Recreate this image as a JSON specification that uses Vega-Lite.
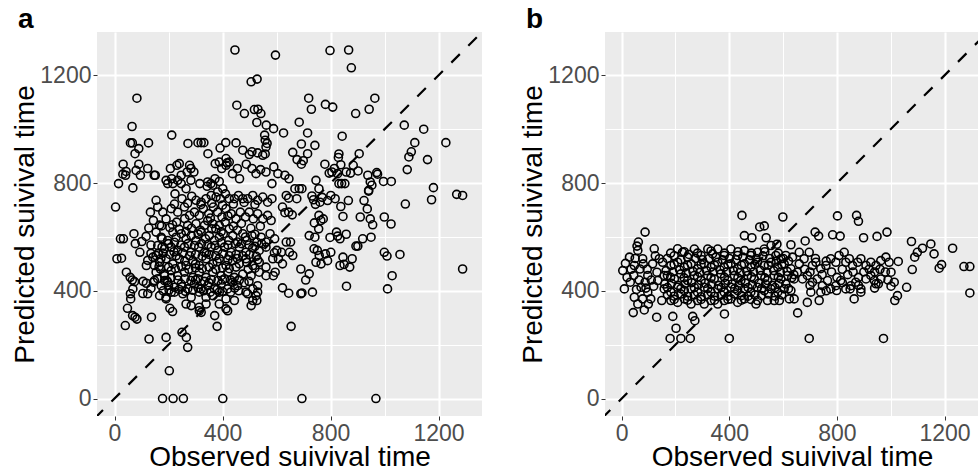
{
"$schema": "https://vega.github.io/schema/vega-lite/v6.json",
"padding": {"left": 11, "top": 6, "right": 0, "bottom": 0},
"spacing": 37,
"datasets": {
"diag": [{"v": -200}, {"v": 1600}],
"a": [
{"o":446,"p":1294},{"o":596,"p":1275},{"o":798,"p":1292},{"o":867,"p":1294},{"o":877,"p":1228},{"o":506,"p":1176},{"o":528,"p":1186},{"o":83,"p":1115},{"o":964,"p":1115},{"o":719,"p":1115},{"o":781,"p":1092},{"o":808,"p":1082},{"o":729,"p":1074},{"o":453,"p":1089},{"o":481,"p":1058},{"o":518,"p":1073},{"o":531,"p":1074},{"o":542,"p":1058},{"o":527,"p":1025},{"o":893,"p":1058},{"o":943,"p":1074},{"o":1073,"p":1015},{"o":1145,"p":1000},{"o":684,"p":1026},{"o":65,"p":1010},{"o":562,"p":1015},{"o":589,"p":1002},{"o":626,"p":986},{"o":715,"p":986},{"o":556,"p":978},{"o":558,"p":959},{"o":843,"p":974},{"o":212,"p":978},{"o":126,"p":949},{"o":59,"p":949},{"o":66,"p":949},{"o":76,"p":909},{"o":90,"p":928},{"o":272,"p":947},{"o":309,"p":950},{"o":321,"p":950},{"o":331,"p":950},{"o":412,"p":950},{"o":450,"p":949},{"o":692,"p":945},{"o":742,"p":940},{"o":1112,"p":950},{"o":1227,"p":950},{"o":1099,"p":916},{"o":1090,"p":897},{"o":1084,"p":850},{"o":1159,"p":887},{"o":906,"p":909},{"o":831,"p":908},{"o":346,"p":909},{"o":499,"p":906},{"o":530,"p":912},{"o":558,"p":908},{"o":391,"p":930},{"o":660,"p":914},{"o":676,"p":887},{"o":699,"p":883},{"o":692,"p":870},{"o":715,"p":909},
{"o":32,"p":870},{"o":31,"p":833},{"o":41,"p":829},{"o":43,"p":843},{"o":15,"p":798},{"o":68,"p":782},{"o":90,"p":870},{"o":123,"p":854},{"o":147,"p":829},{"o":151,"p":829},{"o":80,"p":847},{"o":96,"p":829},{"o":240,"p":872},{"o":207,"p":854},{"o":212,"p":816},{"o":231,"p":866},{"o":269,"p":841},{"o":278,"p":866},{"o":283,"p":854},{"o":294,"p":841},{"o":316,"p":798},{"o":343,"p":788},{"o":357,"p":798},{"o":372,"p":816},{"o":388,"p":806},{"o":417,"p":875},{"o":397,"p":854},{"o":437,"p":835},{"o":455,"p":854},{"o":463,"p":816},{"o":488,"p":870},{"o":509,"p":854},{"o":524,"p":835},{"o":541,"p":850},{"o":561,"p":841},{"o":590,"p":860},{"o":605,"p":835},{"o":583,"p":798},{"o":631,"p":829},{"o":646,"p":816},{"o":668,"p":779},{"o":684,"p":779},{"o":694,"p":779},{"o":746,"p":810},{"o":779,"p":870},{"o":795,"p":837},{"o":805,"p":841},{"o":831,"p":798},{"o":841,"p":798},{"o":853,"p":798},{"o":874,"p":837},{"o":938,"p":829},{"o":974,"p":833},{"o":996,"p":806},{"o":1025,"p":806},{"o":947,"p":804},{"o":941,"p":773},{"o":953,"p":792},{"o":838,"p":868},{"o":858,"p":841},{"o":814,"p":854},{"o":826,"p":835},{"o":884,"p":866},{"o":902,"p":845},{"o":971,"p":839},{"o":829,"p":895},{"o":1181,"p":783},{"o":1174,"p":738},{"o":1267,"p":758},{"o":1289,"p":754},{"o":1077,"p":722},{"o":999,"p":674},{"o":1024,"p":648},{"o":1057,"p":535},{"o":999,"p":543},{"o":1009,"p":529},{"o":1028,"p":456},{"o":1011,"p":407},{"o":1289,"p":481},
{"o":636,"p":754},{"o":645,"p":744},{"o":645,"p":692},{"o":658,"p":682},{"o":622,"p":711},{"o":631,"p":690},{"o":675,"p":742},{"o":737,"p":738},{"o":757,"p":779},{"o":731,"p":752},{"o":744,"p":721},{"o":757,"p":680},{"o":773,"p":667},{"o":761,"p":729},{"o":769,"p":747},{"o":789,"p":735},{"o":801,"p":754},{"o":817,"p":742},{"o":838,"p":713},{"o":846,"p":676},{"o":866,"p":735},{"o":924,"p":735},{"o":936,"p":704},{"o":947,"p":667},{"o":956,"p":645},{"o":950,"p":599},{"o":910,"p":674},{"o":941,"p":770},{"o":919,"p":593},{"o":901,"p":566},{"o":894,"p":566},{"o":880,"p":519},{"o":871,"p":488},{"o":850,"p":498},{"o":858,"p":610},{"o":835,"p":593},{"o":822,"p":618},{"o":826,"p":603},{"o":798,"p":598},{"o":764,"p":661},{"o":740,"p":652},{"o":756,"p":630},{"o":742,"p":599},{"o":721,"p":605},{"o":739,"p":556},{"o":751,"p":550},{"o":758,"p":531},{"o":746,"p":506},{"o":765,"p":500},{"o":781,"p":537},{"o":789,"p":512},{"o":801,"p":543},{"o":846,"p":525},{"o":835,"p":494},{"o":660,"p":531},{"o":648,"p":543},{"o":636,"p":581},{"o":652,"p":581},{"o":618,"p":543},{"o":586,"p":519},{"o":592,"p":541},{"o":601,"p":550},{"o":607,"p":519},{"o":622,"p":500},{"o":595,"p":469},{"o":588,"p":456},{"o":622,"p":411},{"o":645,"p":391},{"o":690,"p":389},{"o":694,"p":392},{"o":708,"p":440},{"o":721,"p":463},{"o":690,"p":481},{"o":733,"p":395},{"o":654,"p":268},{"o":859,"p":417},
{"o":4,"p":711},{"o":22,"p":593},{"o":33,"p":593},{"o":9,"p":519},{"o":26,"p":521},{"o":44,"p":469},{"o":58,"p":450},{"o":66,"p":440},{"o":74,"p":434},{"o":68,"p":407},{"o":59,"p":389},{"o":60,"p":370},{"o":48,"p":335},{"o":40,"p":271},{"o":67,"p":308},{"o":76,"p":302},{"o":83,"p":295},{"o":72,"p":612},{"o":77,"p":575},{"o":94,"p":543},{"o":101,"p":583},{"o":117,"p":602},{"o":127,"p":633},{"o":133,"p":692},{"o":144,"p":661},{"o":154,"p":736},{"o":167,"p":644},{"o":174,"p":641},{"o":135,"p":570},{"o":135,"p":539},{"o":118,"p":494},{"o":123,"p":513},{"o":106,"p":435},{"o":118,"p":428},{"o":105,"p":390},{"o":123,"p":389},{"o":135,"p":409},{"o":144,"p":432},{"o":137,"p":302},{"o":128,"p":221},{"o":148,"p":494},{"o":154,"p":531},{"o":162,"p":539},{"o":167,"p":506},{"o":176,"p":562},{"o":176,"p":593},{"o":170,"p":481},{"o":185,"p":456},{"o":194,"p":438},{"o":202,"p":403},{"o":191,"p":370},{"o":205,"p":335},{"o":215,"p":323},{"o":191,"p":227},{"o":203,"p":103},
{"o":178,"p":0},{"o":217,"p":0},{"o":255,"p":0},{"o":401,"p":0},{"o":694,"p":0},{"o":968,"p":0},{"o":266,"p":227},{"o":271,"p":190},{"o":250,"p":246},{"o":380,"p":268},{"o":371,"p":308},{"o":314,"p":339},
{"o":216,"p":798},{"o":247,"p":798},{"o":265,"p":779},{"o":224,"p":760},{"o":250,"p":742},{"o":286,"p":751},{"o":302,"p":736},{"o":321,"p":729},{"o":339,"p":742},{"o":358,"p":754},{"o":376,"p":748},{"o":392,"p":742},{"o":411,"p":760},{"o":425,"p":742},{"o":444,"p":742},{"o":459,"p":754},{"o":475,"p":742},{"o":493,"p":742},{"o":512,"p":754},{"o":530,"p":736},{"o":549,"p":748},{"o":567,"p":729},{"o":583,"p":742},
{"o":210,"p":705},{"o":234,"p":692},{"o":259,"p":711},{"o":278,"p":680},{"o":296,"p":692},{"o":314,"p":680},{"o":329,"p":705},{"o":349,"p":686},{"o":366,"p":711},{"o":382,"p":692},{"o":398,"p":674},{"o":413,"p":705},{"o":432,"p":686},{"o":450,"p":667},{"o":466,"p":692},{"o":485,"p":674},{"o":499,"p":692},{"o":514,"p":667},{"o":530,"p":686},{"o":549,"p":667},{"o":567,"p":680},{"o":580,"p":661},{"o":160,"p":711},{"o":179,"p":692},{"o":191,"p":667},{"o":271,"p":643},{"o":302,"p":649},{"o":333,"p":643},{"o":364,"p":649},{"o":388,"p":643},{"o":425,"p":630},
{"o":154,"p":618},{"o":173,"p":599},{"o":197,"p":587},{"o":216,"p":618},{"o":228,"p":599},{"o":247,"p":612},{"o":265,"p":593},{"o":284,"p":605},{"o":302,"p":587},{"o":321,"p":618},{"o":337,"p":593},{"o":351,"p":605},{"o":370,"p":587},{"o":388,"p":599},{"o":403,"p":612},{"o":423,"p":587},{"o":438,"p":605},{"o":456,"p":581},{"o":475,"p":612},{"o":490,"p":587},{"o":509,"p":605},{"o":527,"p":581},{"o":543,"p":599},{"o":561,"p":581},{"o":576,"p":612},{"o":593,"p":593},{"o":160,"p":568},{"o":185,"p":556},{"o":210,"p":562},{"o":234,"p":550},{"o":259,"p":562},{"o":284,"p":543},{"o":312,"p":562},{"o":333,"p":543},{"o":358,"p":562},{"o":382,"p":550},{"o":407,"p":562},{"o":432,"p":543},{"o":462,"p":562},{"o":487,"p":543},{"o":512,"p":559},{"o":536,"p":550},{"o":561,"p":562},
{"o":142,"p":525},{"o":191,"p":519},{"o":216,"p":500},{"o":240,"p":519},{"o":265,"p":494},{"o":290,"p":512},{"o":314,"p":494},{"o":339,"p":519},{"o":364,"p":500},{"o":388,"p":519},{"o":413,"p":494},{"o":438,"p":512},{"o":462,"p":500},{"o":487,"p":519},{"o":512,"p":494},{"o":536,"p":506},{"o":561,"p":488},{"o":154,"p":469},{"o":185,"p":462},{"o":210,"p":475},{"o":234,"p":456},{"o":259,"p":469},{"o":290,"p":450},{"o":314,"p":469},{"o":339,"p":450},{"o":364,"p":469},{"o":395,"p":456},{"o":419,"p":469},{"o":444,"p":450},{"o":475,"p":462},{"o":506,"p":456},{"o":536,"p":469},{"o":561,"p":456},
{"o":148,"p":438},{"o":173,"p":419},{"o":197,"p":432},{"o":222,"p":413},{"o":247,"p":425},{"o":271,"p":407},{"o":296,"p":425},{"o":321,"p":407},{"o":345,"p":419},{"o":370,"p":407},{"o":395,"p":425},{"o":419,"p":407},{"o":438,"p":432},{"o":456,"p":419},{"o":487,"p":395},{"o":512,"p":407},{"o":530,"p":419},{"o":167,"p":382},{"o":191,"p":376},{"o":222,"p":395},{"o":253,"p":389},{"o":284,"p":376},{"o":314,"p":395},{"o":339,"p":376},{"o":364,"p":382},{"o":388,"p":395},{"o":413,"p":370},{"o":444,"p":364},{"o":493,"p":389},{"o":524,"p":382},{"o":527,"p":364},
{"o":265,"p":351},{"o":284,"p":345},{"o":314,"p":326},{"o":321,"p":320},{"o":339,"p":351},{"o":388,"p":351},{"o":413,"p":333},{"o":419,"p":326},{"o":506,"p":345},{"o":512,"p":364},{"o":530,"p":395},
{"o":191,"p":810},{"o":197,"p":798},{"o":234,"p":810},{"o":247,"p":829},{"o":283,"p":810},{"o":345,"p":804},{"o":364,"p":792},{"o":382,"p":767},{"o":401,"p":779},{"o":413,"p":866},{"o":425,"p":878},{"o":413,"p":891},{"o":388,"p":878},{"o":373,"p":872},{"o":475,"p":922},{"o":509,"p":916},{"o":549,"p":903},{"o":561,"p":934},{"o":565,"p":947},
{"o":222,"p":722},{"o":271,"p":725},{"o":320,"p":720},{"o":360,"p":725},{"o":400,"p":718},{"o":440,"p":722},{"o":480,"p":728},{"o":520,"p":720},
{"o":205,"p":635},{"o":240,"p":628},{"o":285,"p":632},{"o":318,"p":625},{"o":345,"p":660},{"o":375,"p":630},{"o":410,"p":655},{"o":440,"p":640},{"o":470,"p":650},{"o":505,"p":632},{"o":540,"p":640},{"o":230,"p":655},{"o":260,"p":668},{"o":355,"p":670},{"o":420,"p":678},
{"o":200,"p":575},{"o":222,"p":580},{"o":246,"p":570},{"o":272,"p":575},{"o":296,"p":568},{"o":322,"p":575},{"o":346,"p":572},{"o":372,"p":568},{"o":396,"p":578},{"o":420,"p":570},{"o":447,"p":575},{"o":470,"p":575},{"o":498,"p":570},{"o":520,"p":565},{"o":545,"p":575},
{"o":172,"p":520},{"o":205,"p":535},{"o":228,"p":530},{"o":252,"p":540},{"o":278,"p":530},{"o":300,"p":535},{"o":325,"p":528},{"o":350,"p":535},{"o":375,"p":530},{"o":400,"p":538},{"o":425,"p":530},{"o":450,"p":535},{"o":475,"p":530},{"o":500,"p":535},{"o":525,"p":528},
{"o":165,"p":490},{"o":200,"p":488},{"o":225,"p":482},{"o":248,"p":490},{"o":275,"p":480},{"o":300,"p":485},{"o":325,"p":482},{"o":350,"p":488},{"o":375,"p":480},{"o":400,"p":485},{"o":425,"p":482},{"o":450,"p":488},{"o":495,"p":480},{"o":520,"p":484},
{"o":160,"p":445},{"o":185,"p":438},{"o":210,"p":448},{"o":235,"p":440},{"o":260,"p":445},{"o":283,"p":438},{"o":308,"p":445},{"o":333,"p":435},{"o":358,"p":442},{"o":383,"p":438},{"o":408,"p":445},{"o":430,"p":440},{"o":462,"p":440},{"o":498,"p":435},
{"o":180,"p":400},{"o":210,"p":395},{"o":240,"p":405},{"o":262,"p":398},{"o":290,"p":402},{"o":310,"p":410},{"o":330,"p":400},{"o":355,"p":395},{"o":380,"p":405},{"o":400,"p":398},{"o":430,"p":395},{"o":460,"p":400},
{"o":215,"p":645},{"o":265,"p":620},{"o":310,"p":610},{"o":360,"p":630},{"o":395,"p":620},{"o":455,"p":625},{"o":485,"p":600},{"o":520,"p":610},
{"o":180,"p":540},{"o":220,"p":545},{"o":260,"p":510},{"o":300,"p":500},{"o":340,"p":540},{"o":380,"p":508},{"o":420,"p":515},{"o":455,"p":520},{"o":490,"p":505},{"o":530,"p":515},
{"o":200,"p":420},{"o":250,"p":415},{"o":300,"p":440},{"o":350,"p":430},{"o":400,"p":440},{"o":445,"p":410},{"o":480,"p":430}
],
"b": [
{"o":447,"p":680},{"o":599,"p":674},{"o":802,"p":678},{"o":873,"p":680},{"o":880,"p":658},{"o":87,"p":618},{"o":62,"p":581},{"o":57,"p":566},{"o":456,"p":605},{"o":484,"p":597},{"o":513,"p":637},{"o":530,"p":641},{"o":537,"p":597},{"o":577,"p":573},{"o":629,"p":571},{"o":682,"p":585},{"o":719,"p":618},{"o":732,"p":603},{"o":784,"p":608},{"o":812,"p":603},{"o":899,"p":597},{"o":949,"p":602},{"o":986,"p":618},{"o":1077,"p":583},{"o":1149,"p":574},{"o":1230,"p":558},{"o":1118,"p":558},{"o":1099,"p":543},{"o":1089,"p":525},{"o":1161,"p":537},{"o":1189,"p":497},{"o":1180,"p":484},{"o":1080,"p":479},{"o":1272,"p":490},{"o":1294,"p":490},{"o":1294,"p":392},{"o":1028,"p":509},{"o":1059,"p":413},{"o":1025,"p":382},{"o":1015,"p":364},{"o":973,"p":223},{"o":697,"p":223},{"o":400,"p":223},{"o":255,"p":223},{"o":220,"p":223},{"o":180,"p":223},{"o":202,"p":261},{"o":190,"p":305},{"o":264,"p":305},{"o":272,"p":289},{"o":130,"p":302},{"o":654,"p":318},{"o":43,"p":319},{"o":84,"p":329},{"o":382,"p":314},
{"o":4,"p":475},{"o":10,"p":407},{"o":14,"p":502},{"o":29,"p":525},{"o":32,"p":432},{"o":47,"p":494},{"o":45,"p":457},{"o":60,"p":550},{"o":68,"p":481},{"o":78,"p":519},{"o":87,"p":432},{"o":97,"p":395},{"o":108,"p":370},{"o":121,"p":556},{"o":140,"p":519},{"o":152,"p":506},{"o":158,"p":457},{"o":131,"p":469},{"o":78,"p":370},{"o":60,"p":351},{"o":47,"p":376},{"o":99,"p":351},{"o":149,"p":364},{"o":119,"p":417},{"o":97,"p":457},{"o":72,"p":413},{"o":134,"p":438},
{"o":20,"p":450},{"o":35,"p":480},{"o":50,"p":520},{"o":65,"p":440},{"o":80,"p":500},{"o":95,"p":480},{"o":110,"p":440},{"o":115,"p":500},{"o":125,"p":530},{"o":90,"p":410},{"o":55,"p":405},
{"o":208,"p":556},{"o":226,"p":543},{"o":245,"p":525},{"o":270,"p":555},{"o":295,"p":531},{"o":320,"p":555},{"o":338,"p":537},{"o":357,"p":555},{"o":381,"p":531},{"o":406,"p":555},{"o":431,"p":531},{"o":456,"p":549},{"o":480,"p":531},{"o":505,"p":543},{"o":530,"p":555},{"o":555,"p":568},{"o":573,"p":531},{"o":592,"p":519},{"o":610,"p":531},
{"o":183,"p":494},{"o":208,"p":506},{"o":233,"p":488},{"o":258,"p":500},{"o":282,"p":482},{"o":307,"p":500},{"o":332,"p":488},{"o":357,"p":506},{"o":381,"p":488},{"o":406,"p":500},{"o":431,"p":482},{"o":456,"p":500},{"o":480,"p":488},{"o":505,"p":506},{"o":530,"p":494},{"o":555,"p":506},{"o":580,"p":488},{"o":604,"p":500},{"o":629,"p":482},
{"o":170,"p":457},{"o":196,"p":444},{"o":220,"p":463},{"o":245,"p":438},{"o":270,"p":457},{"o":295,"p":438},{"o":320,"p":457},{"o":344,"p":444},{"o":369,"p":463},{"o":394,"p":438},{"o":419,"p":457},{"o":443,"p":438},{"o":468,"p":457},{"o":493,"p":444},{"o":518,"p":457},{"o":542,"p":438},{"o":567,"p":457},{"o":592,"p":444},{"o":617,"p":457},{"o":641,"p":444},
{"o":158,"p":407},{"o":183,"p":395},{"o":208,"p":413},{"o":233,"p":401},{"o":258,"p":407},{"o":282,"p":395},{"o":307,"p":413},{"o":332,"p":395},{"o":357,"p":407},{"o":381,"p":395},{"o":406,"p":413},{"o":431,"p":401},{"o":456,"p":407},{"o":480,"p":395},{"o":505,"p":413},{"o":530,"p":401},{"o":555,"p":407},{"o":580,"p":395},{"o":604,"p":407},{"o":629,"p":401},
{"o":183,"p":364},{"o":208,"p":357},{"o":233,"p":370},{"o":258,"p":351},{"o":282,"p":364},{"o":307,"p":351},{"o":332,"p":364},{"o":357,"p":351},{"o":381,"p":364},{"o":406,"p":370},{"o":431,"p":357},{"o":456,"p":370},{"o":499,"p":351},{"o":505,"p":364},{"o":542,"p":364},{"o":567,"p":364},{"o":586,"p":364},{"o":623,"p":370},
{"o":170,"p":520},{"o":195,"p":530},{"o":220,"p":515},{"o":250,"p":535},{"o":275,"p":520},{"o":300,"p":515},{"o":325,"p":520},{"o":350,"p":525},{"o":375,"p":515},{"o":400,"p":520},{"o":425,"p":515},{"o":450,"p":525},{"o":475,"p":515},{"o":500,"p":520},{"o":525,"p":530},{"o":550,"p":520},{"o":575,"p":510},{"o":600,"p":520},{"o":620,"p":510},
{"o":165,"p":475},{"o":190,"p":470},{"o":215,"p":478},{"o":240,"p":465},{"o":265,"p":472},{"o":290,"p":468},{"o":315,"p":475},{"o":340,"p":470},{"o":365,"p":478},{"o":390,"p":470},{"o":415,"p":475},{"o":440,"p":468},{"o":465,"p":472},{"o":490,"p":470},{"o":515,"p":476},{"o":540,"p":470},{"o":565,"p":475},{"o":590,"p":468},{"o":615,"p":472},{"o":640,"p":460},
{"o":160,"p":425},{"o":185,"p":428},{"o":210,"p":420},{"o":235,"p":425},{"o":260,"p":430},{"o":285,"p":422},{"o":310,"p":428},{"o":335,"p":425},{"o":360,"p":420},{"o":385,"p":428},{"o":410,"p":425},{"o":435,"p":420},{"o":460,"p":428},{"o":485,"p":422},{"o":510,"p":428},{"o":535,"p":425},{"o":560,"p":420},{"o":585,"p":428},{"o":610,"p":425},
{"o":170,"p":385},{"o":195,"p":380},{"o":220,"p":388},{"o":245,"p":380},{"o":270,"p":385},{"o":295,"p":378},{"o":320,"p":385},{"o":345,"p":380},{"o":370,"p":385},{"o":395,"p":380},{"o":420,"p":388},{"o":445,"p":382},{"o":470,"p":380},{"o":495,"p":385},{"o":520,"p":382},{"o":545,"p":388},{"o":570,"p":380},{"o":595,"p":385},
{"o":182,"p":540},{"o":232,"p":545},{"o":282,"p":540},{"o":332,"p":548},{"o":382,"p":540},{"o":432,"p":545},{"o":482,"p":540},{"o":532,"p":545},{"o":582,"p":540},
{"o":195,"p":498},{"o":245,"p":495},{"o":295,"p":498},{"o":345,"p":495},{"o":395,"p":498},{"o":445,"p":495},{"o":495,"p":498},{"o":545,"p":495},{"o":595,"p":498},
{"o":182,"p":450},{"o":232,"p":448},{"o":282,"p":452},{"o":332,"p":448},{"o":382,"p":450},{"o":432,"p":448},{"o":482,"p":452},{"o":532,"p":448},{"o":582,"p":450},{"o":632,"p":448},
{"o":170,"p":412},{"o":220,"p":408},{"o":270,"p":412},{"o":320,"p":408},{"o":370,"p":412},{"o":420,"p":408},{"o":470,"p":412},{"o":520,"p":408},{"o":570,"p":412},{"o":620,"p":408},
{"o":195,"p":368},{"o":245,"p":365},{"o":295,"p":368},{"o":345,"p":365},{"o":395,"p":368},{"o":445,"p":365},{"o":480,"p":368},
{"o":635,"p":525},{"o":660,"p":543},{"o":678,"p":519},{"o":697,"p":543},{"o":709,"p":494},{"o":722,"p":506},{"o":740,"p":482},{"o":759,"p":494},{"o":777,"p":519},{"o":796,"p":506},{"o":808,"p":531},{"o":827,"p":543},{"o":833,"p":506},{"o":846,"p":519},{"o":858,"p":494},{"o":877,"p":506},{"o":889,"p":519},{"o":908,"p":494},{"o":926,"p":506},{"o":945,"p":494},{"o":963,"p":512},{"o":982,"p":525},{"o":994,"p":506},
{"o":653,"p":469},{"o":672,"p":444},{"o":690,"p":457},{"o":709,"p":432},{"o":727,"p":444},{"o":746,"p":419},{"o":765,"p":438},{"o":777,"p":407},{"o":796,"p":419},{"o":814,"p":438},{"o":833,"p":407},{"o":852,"p":419},{"o":870,"p":432},{"o":889,"p":407},{"o":908,"p":444},{"o":926,"p":457},{"o":945,"p":426},{"o":963,"p":444},{"o":1001,"p":469},{"o":1013,"p":432},{"o":1001,"p":417},{"o":641,"p":370},{"o":703,"p":395},{"o":740,"p":395},{"o":799,"p":401},{"o":849,"p":407},{"o":864,"p":370},{"o":889,"p":395},{"o":939,"p":438},{"o":954,"p":426},{"o":734,"p":364},{"o":690,"p":357},
{"o":660,"p":500},{"o":680,"p":480},{"o":700,"p":470},{"o":720,"p":520},{"o":745,"p":460},{"o":760,"p":510},{"o":780,"p":470},{"o":800,"p":450},{"o":820,"p":480},{"o":840,"p":460},{"o":860,"p":470},{"o":880,"p":450},{"o":900,"p":470},{"o":920,"p":480},{"o":940,"p":470},{"o":960,"p":480},{"o":980,"p":470},{"o":700,"p":420},{"o":760,"p":400},{"o":820,"p":430},{"o":880,"p":420},{"o":940,"p":410},{"o":990,"p":440}
]
},
"config": {
"view": {"fill": "#EBEBEB", "stroke": null},
"font": "Liberation Sans",
"axis": {"domain": false, "grid": true, "gridColor": "#FFFFFF", "tickColor": "#333333", "tickSize": 4, "tickWidth": 1, "labelFont": "Liberation Sans", "labelFontSize": 23, "labelColor": "#4D4D4D", "labelPadding": 2, "labelFlush": false, "labelOverlap": false, "titleFont": "Liberation Sans", "titleFontSize": 28, "titleFontWeight": "normal", "titleColor": "#000000", "titlePadding": 0},
"axisX": {"titlePadding": -2}
},
"hconcat": [
{
"width": 385, "height": 384,
"title": {"text": "a", "anchor": "start", "frame": "group", "fontSize": 28, "fontWeight": "bold", "font": "Liberation Sans", "color": "#000000", "dx": -79, "offset": -24, "baseline": "alphabetic"},
"layer": [
{"data": {"name": "a"},
"mark": {"type": "point", "shape": "circle", "filled": false, "stroke": "#000000", "strokeWidth": 1.6, "size": 64, "opacity": 1, "clip": true},
"encoding": {
"x": {"field": "o", "type": "quantitative", "scale": {"domain": [-64.8, 1360.8], "nice": false, "zero": false},
"axis": {"title": "Observed suivival time", "values": [0, 200, 400, 600, 800, 1000, 1200], "format": "d", "labelExpr": "datum.value % 400 === 0 ? datum.label : ''", "gridWidth": {"condition": {"test": "datum.value % 400 === 0", "value": 2.1}, "value": 1}, "tickOpacity": {"condition": {"test": "datum.value % 400 === 0", "value": 1}, "value": 0}}},
"y": {"field": "p", "type": "quantitative", "scale": {"domain": [-64.8, 1360.8], "nice": false, "zero": false},
"axis": {"title": "Predicted suivival time", "values": [0, 200, 400, 600, 800, 1000, 1200], "format": "d", "labelExpr": "datum.value % 400 === 0 ? datum.label : ''", "gridWidth": {"condition": {"test": "datum.value % 400 === 0", "value": 2.1}, "value": 1}, "tickOpacity": {"condition": {"test": "datum.value % 400 === 0", "value": 1}, "value": 0}}}
}},
{"data": {"name": "diag"},
"mark": {"type": "line", "clip": true, "color": "#000000", "strokeWidth": 2.2, "strokeDash": [12, 12]},
"encoding": {"x": {"field": "v", "type": "quantitative"}, "y": {"field": "v", "type": "quantitative"}}}
]
},
{
"width": 374, "height": 384,
"title": {"text": "b", "anchor": "start", "frame": "group", "fontSize": 28, "fontWeight": "bold", "font": "Liberation Sans", "color": "#000000", "dx": -79, "offset": -24, "baseline": "alphabetic"},
"layer": [
{"data": {"name": "b"},
"mark": {"type": "point", "shape": "circle", "filled": false, "stroke": "#000000", "strokeWidth": 1.6, "size": 64, "opacity": 1, "clip": true},
"encoding": {
"x": {"field": "o", "type": "quantitative", "scale": {"domain": [-62, 1328], "nice": false, "zero": false},
"axis": {"title": "Observed suivival time", "values": [0, 200, 400, 600, 800, 1000, 1200], "format": "d", "labelExpr": "datum.value % 400 === 0 ? datum.label : ''", "gridWidth": {"condition": {"test": "datum.value % 400 === 0", "value": 2.1}, "value": 1}, "tickOpacity": {"condition": {"test": "datum.value % 400 === 0", "value": 1}, "value": 0}}},
"y": {"field": "p", "type": "quantitative", "scale": {"domain": [-64.8, 1360.8], "nice": false, "zero": false},
"axis": {"title": "Predicted suivival time", "values": [0, 200, 400, 600, 800, 1000, 1200], "format": "d", "labelExpr": "datum.value % 400 === 0 ? datum.label : ''", "gridWidth": {"condition": {"test": "datum.value % 400 === 0", "value": 2.1}, "value": 1}, "tickOpacity": {"condition": {"test": "datum.value % 400 === 0", "value": 1}, "value": 0}}}
}},
{"data": {"name": "diag"},
"mark": {"type": "line", "clip": true, "color": "#000000", "strokeWidth": 2.2, "strokeDash": [12, 12]},
"encoding": {"x": {"field": "v", "type": "quantitative"}, "y": {"field": "v", "type": "quantitative"}}}
]
}
]
}
